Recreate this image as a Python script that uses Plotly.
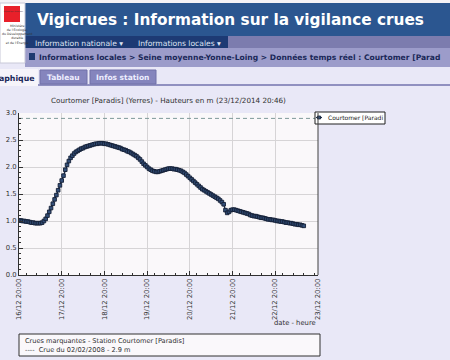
import plotly.graph_objects as go
import pandas as pd

W, H = 450, 360

# ---- data ----
start_time = "2014-12-16 20:00"
heights = [
    1.01, 1.01, 1.00, 1.00, 0.99, 0.99, 0.98, 0.97, 0.97, 0.96,
    0.96, 0.96, 0.96, 0.97, 1.00, 1.04, 1.10, 1.17, 1.24, 1.32,
    1.40, 1.48, 1.57, 1.66, 1.75, 1.84, 1.95, 2.04, 2.11, 2.17,
    2.21, 2.25, 2.28, 2.30, 2.32, 2.34, 2.35, 2.37, 2.38, 2.39,
    2.40, 2.41, 2.42, 2.43, 2.43, 2.44, 2.44, 2.44, 2.43, 2.43,
    2.42, 2.41, 2.40, 2.39, 2.38, 2.37, 2.36, 2.35, 2.33, 2.32,
    2.31, 2.29, 2.28, 2.26, 2.24, 2.22, 2.20, 2.17, 2.14, 2.10,
    2.06, 2.03, 2.00, 1.97, 1.95, 1.93, 1.92, 1.91, 1.91, 1.92,
    1.93, 1.94, 1.95, 1.96, 1.97, 1.97, 1.97, 1.96, 1.96, 1.95,
    1.94, 1.93, 1.91, 1.89, 1.86, 1.83, 1.80, 1.77, 1.74, 1.71,
    1.68, 1.65, 1.62, 1.59, 1.57, 1.55, 1.53, 1.51, 1.49, 1.47,
    1.45, 1.43, 1.41, 1.38, 1.35, 1.31, 1.20, 1.15, 1.17, 1.20,
    1.21, 1.21, 1.20, 1.19, 1.18, 1.17, 1.16, 1.15, 1.14, 1.13,
    1.11, 1.10, 1.09, 1.09, 1.08, 1.07, 1.06, 1.06, 1.05, 1.04,
    1.03, 1.03, 1.02, 1.02, 1.01, 1.00, 1.00, 0.99, 0.99, 0.98,
    0.97, 0.97, 0.96, 0.96, 0.95, 0.94, 0.94, 0.93, 0.93, 0.92,
    0.91,
]
times = pd.date_range(start_time, periods=len(heights), freq="h")
x_range = ["2014-12-16 20:00", "2014-12-23 20:00"]
crue_value = 2.9
crue_label = "Crue du 02/02/2008 - 2.9 m"
series_name = "Courtomer [Paradi"
chart_title = "Courtomer [Paradis] (Yerres) - Hauteurs en m (23/12/2014 20:46)"

def px(x):
    return x / W

def py(y):
    return 1 - y / H

FONT = "DejaVu Sans"
LINE_C = "#1c2c48"
MARK_C = "#34507a"

fig = go.Figure()
fig.add_trace(go.Scatter(
    x=times, y=heights, mode="lines+markers", name=series_name, showlegend=False,
    line=dict(color=LINE_C, width=1.4),
    marker=dict(symbol="square", size=3.6, color=MARK_C,
                line=dict(color="#141f36", width=0.9)),
))
fig.add_trace(go.Scatter(
    x=x_range, y=[crue_value, crue_value], mode="lines", showlegend=False,
    line=dict(color="#7f9a9a", width=1, dash="4px,3px"),
))

shapes = []
def rect(x0, y0, x1, y1, fill, line=None, lw=0):
    shapes.append(dict(type="rect", xref="paper", yref="paper",
                       x0=px(x0), x1=px(x1), y0=py(y1), y1=py(y0),
                       fillcolor=fill, line=dict(color=line or fill, width=lw),
                       layer="below"))

# page decoration
rect(0, 0, 450, 3, "#f4f2f6")
rect(25, 3, 450, 36, "#2b5690")
rect(25, 36, 228, 48, "#1d3a74")
rect(228, 36, 450, 48, "#7c7cae")
rect(25, 48, 450, 67, "#9c9cca")
rect(0, 3, 25, 63, "#ffffff", "#c8c8d8", 1)
rect(4, 6, 20, 22, "#e8202a")
rect(29, 53, 35, 60, "#1e3a70")
rect(0, 84, 450, 86, "#9090c0")
rect(0, 69, 38, 86, "#f6f4fa")
rect(40, 70, 87, 84, "#8585bd", "#7070a8", 1)
rect(90, 70, 156, 84, "#8585bd", "#7070a8", 1)
rect(19, 334, 320, 356, "#faf8fb", "#303030", 1)
# legend box
shapes.append(dict(type="rect", xref="paper", yref="paper",
                   x0=px(315), x1=px(385), y0=py(124), y1=py(112),
                   fillcolor="#ffffff", line=dict(color="#202020", width=1), layer="above"))
shapes.append(dict(type="line", xref="paper", yref="paper",
                   x0=px(316), x1=px(322), y0=py(117.5), y1=py(117.5),
                   line=dict(color=LINE_C, width=1.2), layer="above"))
shapes.append(dict(type="rect", xref="paper", yref="paper",
                   x0=px(317.5), x1=px(320.5), y0=py(119), y1=py(116),
                   fillcolor=MARK_C, line=dict(color="#14213a", width=0.8), layer="above"))
# right edge of plot frame
shapes.append(dict(type="line", xref="paper", yref="paper",
                   x0=px(318), x1=px(318), y0=py(275), y1=py(113),
                   line=dict(color="#404040", width=1)))

ann = []
def text(x, y, s, size, color, bold=False, anchor="left"):
    ann.append(dict(xref="paper", yref="paper", x=px(x), y=py(y), text=("<b>%s</b>" % s) if bold else s,
                    showarrow=False, xanchor=anchor, yanchor="middle",
                    font=dict(family=FONT, size=size, color=color)))

text(35, 20, "Vigicrues : Information sur la vigilance crues", 15.3, "#ffffff", bold=True)
text(33, 43, "Information nationale ▾", 7.6, "#dfe3f2")
text(136, 43, "Informations locales ▾", 7.6, "#dfe3f2")
text(37, 57.5, "Informations locales &gt; Seine moyenne-Yonne-Loing &gt; Données temps réel : Courtomer [Parad", 7.6, "#1a2858", bold=True)
text(-3, 78, "aphique", 7.8, "#1a2858", bold=True)
text(63.5, 77, "Tableau", 7.5, "#eeeeff", bold=True, anchor="center")
text(123, 77, "Infos station", 7.5, "#eeeeff", bold=True, anchor="center")
text(168, 100, chart_title, 7.2, "#303030", anchor="center")
text(326, 118, series_name, 6.0, "#202020")
text(318, 323, "date - heure", 6.8, "#303030", anchor="right")
text(23, 341, "Crues marquantes - Station Courtomer [Paradis]", 6.6, "#303030")
text(23, 350, "----  " + crue_label, 6.6, "#303030")
text(2, 12, "République Française", 1.8, "#333333")
text(0, 34, "Ministère<br>de l'Écologie,<br>du Développement<br>durable<br>et de l'Énergie", 3.2, "#333333")

fig.update_layout(
    width=W, height=H,
    margin=dict(l=0, r=0, t=0, b=0, autoexpand=False),
    paper_bgcolor="#e9e8f7",
    plot_bgcolor="#faf8fa",
    shapes=shapes, annotations=ann,
    showlegend=False,
    xaxis=dict(domain=[px(19), px(318)], type="date", range=x_range, automargin=False,
               dtick=86400000, tick0="2014-12-16 20:00", tickformat="%d/%m %H:%M",
               tickangle=-90, tickfont=dict(family=FONT, size=6.8, color="#303030"),
               showgrid=True, gridcolor="#d6d4d6", gridwidth=1,
               showline=True, linecolor="#303030", linewidth=1,
               ticks="inside", ticklen=4, tickcolor="#303030",
               minor=dict(dtick=21600000, ticks="inside", ticklen=2, tickcolor="#303030", showgrid=False),
               zeroline=False, fixedrange=True),
    yaxis=dict(domain=[py(275), py(113)], range=[0, 3], dtick=0.5, tickformat=".1f", automargin=False,
               tickfont=dict(family=FONT, size=6.8, color="#303030"),
               showgrid=True, gridcolor="#d6d4d6", gridwidth=1,
               showline=True, linecolor="#303030", linewidth=1,
               ticks="inside", ticklen=4, tickcolor="#303030",
               minor=dict(dtick=0.1, ticks="inside", ticklen=2, tickcolor="#303030", showgrid=False),
               zeroline=False, fixedrange=True),
)

fig.write_html("out.html", config={"displayModeBar": False},
               post_script="document.body.style.margin='0';document.body.style.overflow='hidden';")
